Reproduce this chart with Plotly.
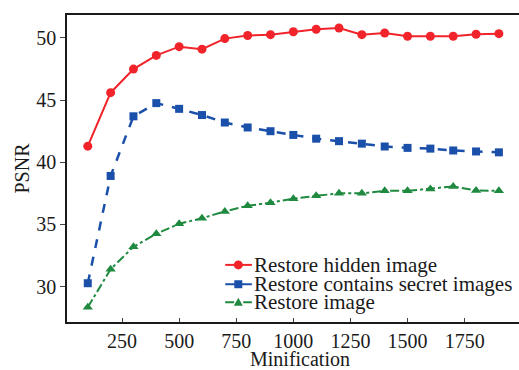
import plotly.graph_objects as go

minification = [100, 200, 300, 400, 500, 600, 700, 800, 900, 1000,
                1100, 1200, 1300, 1400, 1500, 1600, 1700, 1800, 1900]
hidden = [41.3, 45.6, 47.5, 48.6, 49.3, 49.1, 49.95, 50.2, 50.27, 50.5,
          50.7, 50.8, 50.27, 50.4, 50.14, 50.14, 50.14, 50.3, 50.35]
secret = [30.27, 38.9, 43.7, 44.76, 44.3, 43.8, 43.2, 42.8, 42.5, 42.2,
          41.9, 41.7, 41.5, 41.27, 41.16, 41.1, 40.95, 40.87, 40.8]
restore = [28.33, 31.4, 33.2, 34.25, 35.05, 35.5, 36.05, 36.5, 36.75, 37.07,
           37.3, 37.5, 37.5, 37.7, 37.7, 37.85, 38.06, 37.74, 37.7]
names = ["Restore hidden image", "Restore contains secret images", "Restore image"]
x_ticks = [250, 500, 750, 1000, 1250, 1500, 1750]
y_ticks = [30, 35, 40, 45, 50]
x_title = "Minification"
y_title = "PSNR"

FONT = "Liberation Serif, Times New Roman, serif"
INK = "#1a1a1a"
colors = ["#f0242a", "#1a4faa", "#1f8a3f"]
dashes = ["solid", "dash", "dashdot"]
symbols = ["circle", "square", "triangle-up"]
widths = [2, 2.5, 2]
series = [hidden, secret, restore]

fig = go.Figure()
for s, nm, c, d, sym, w in zip(series, names, colors, dashes, symbols, widths):
    fig.add_trace(go.Scatter(x=minification, y=s, name=nm, mode="lines+markers",
                             line=dict(color=c, width=w, dash=d),
                             marker=dict(symbol=sym, size=9 if sym != "square" else 8, color=c),
                             showlegend=False))

# compact legend drawn inside the plot (lower right)
leg_y = [0.186, 0.123, 0.064]
lx0, lx1, lxc, ltx = 0.350, 0.409, 0.379, 0.412
for i in range(3):
    yy = leg_y[i]
    fig.add_shape(type="line", xref="paper", yref="paper", x0=lx0, x1=lx1, y0=yy, y1=yy,
                  line=dict(color=colors[i], width=2, dash="solid" if i < 2 else "dashdot"))
    common = dict(xref="paper", yref="paper", xsizemode="pixel", ysizemode="pixel",
                  xanchor=lxc, yanchor=yy, fillcolor=colors[i], line=dict(width=0))
    if symbols[i] == "circle":
        fig.add_shape(type="circle", x0=-4.5, x1=4.5, y0=-4.5, y1=4.5, **common)
    elif symbols[i] == "square":
        fig.add_shape(type="rect", x0=-4, x1=4, y0=-4, y1=4, **common)
    else:
        fig.add_shape(type="path", path="M -4.5,-3.5 L 4.5,-3.5 L 0,4.5 Z", **common)
    fig.add_annotation(xref="paper", yref="paper", x=ltx, y=yy, xanchor="left", yanchor="middle",
                       text=names[i], showarrow=False, borderpad=0,
                       font=dict(family=FONT, size=21, color=INK))

# x-axis title, placed low like the reference
fig.add_annotation(xref="paper", yref="paper", x=0.515, y=-0.121, xanchor="center",
                   yanchor="middle", text=x_title, showarrow=False, borderpad=0,
                   font=dict(family=FONT, size=20, color=INK))

fig.update_layout(
    width=519, height=370,
    margin=dict(l=67, r=0, t=15, b=48),
    paper_bgcolor="white", plot_bgcolor="white",
    font=dict(family=FONT, size=20, color=INK),
    showlegend=False,
    xaxis=dict(range=[9, 1988], tickvals=x_ticks, ticks="inside", ticklen=4,
               showline=True, linecolor=INK, linewidth=1.5, mirror=True,
               showgrid=False, zeroline=False, automargin=False,
               tickfont=dict(size=20)),
    yaxis=dict(range=[27.15, 51.85], tickvals=y_ticks, ticks="outside", ticklen=5,
               showline=True, linecolor=INK, linewidth=1.5, mirror=False,
               showgrid=False, zeroline=False, automargin=False,
               title=dict(text=y_title, standoff=1, font=dict(size=20)),
               tickfont=dict(size=20)),
)
fig.write_html("out.html")
